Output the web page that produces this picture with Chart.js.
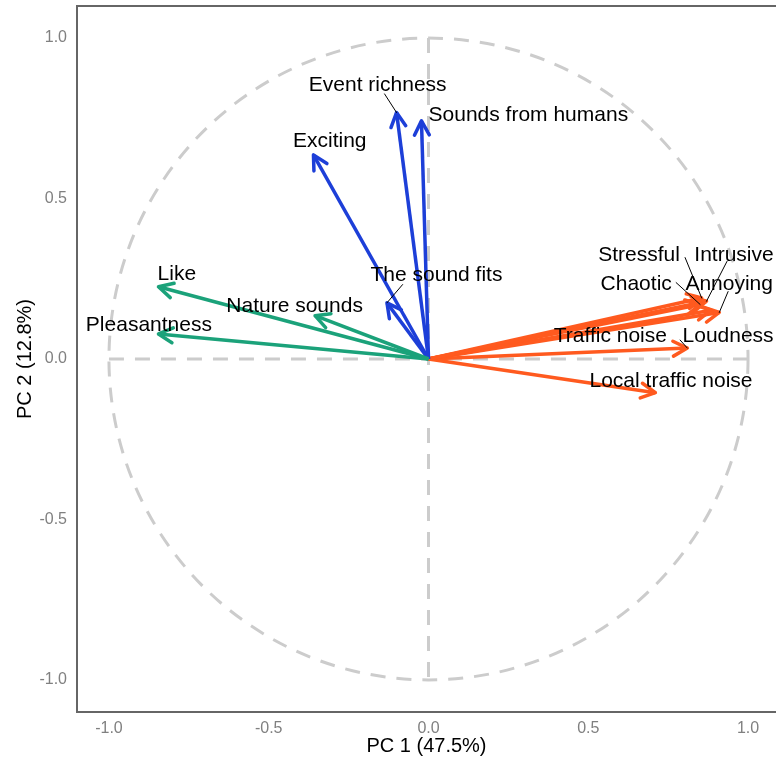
<!DOCTYPE html>
<html>
<head>
<meta charset="utf-8">
<script src="https://cdn.jsdelivr.net/npm/chart.js@4/dist/chart.umd.min.js"></script>
<style>
  body { margin: 0; background: #fff; }
  #wrap { width: 776px; height: 760px; }
</style>
</head>
<body>
<div id="wrap"><canvas id="pcaChart" width="776" height="760"></canvas></div>
<script>
// PCA loadings

const variables = [
    "Pleasantness", "Like", "Nature sounds",
    "Exciting", "Event richness", "Sounds from humans", "The sound fits",
    "Stressful", "Intrusive", "Chaotic", "Annoying", "Loudness",
    "Traffic noise", "Local traffic noise"
];

const pc1 = [-0.845, -0.845, -0.355, -0.36, -0.10, -0.022, -0.13, 0.855, 0.87, 0.85, 0.91, 0.885, 0.81, 0.71];
const pc2 = [0.078, 0.225, 0.135, 0.636, 0.768, 0.742, 0.175, 0.19, 0.18, 0.17, 0.145, 0.152, 0.034, -0.105];
const groups = ["pos", "pos", "pos", "evt", "evt", "evt", "evt", "neg", "neg", "neg", "neg", "neg", "neg", "neg"];

const xTicks = [-1.0, -0.5, 0.0, 0.5, 1.0];
const yTicks = [-1.0, -0.5, 0.0, 0.5, 1.0];

// label placement (layout only)
const labelAt = [
    [-0.875, 0.116], [-0.7875, 0.275], [-0.419, 0.175],
    [-0.309, 0.689], [-0.159, 0.861], [0.3125, 0.77], [0.025, 0.269],
    [0.659, 0.332], [0.956, 0.332], [0.65, 0.241], [0.941, 0.241], [0.9375, 0.081],
    [0.569, 0.081], [0.759, -0.059]
];
// leader line start for repelled labels
const leaderFrom = {
    "Event richness": [-0.1375, 0.826],
    "The sound fits": [-0.081, 0.232],
    "Stressful": [0.803, 0.316],
    "Intrusive": [0.934, 0.304],
    "Chaotic": [0.775, 0.238],
    "Annoying": [0.9375, 0.21],
    "Traffic noise": [0.7875, 0.059]
};

const colours = { pos: "#1BA27A", evt: "#1D3FD8", neg: "#FF5A1F" };
const FONT = "'Liberation Sans', Arial, sans-serif";

const datasets = variables.map((v, i) => ({
    label: v,
    data: [{ x: 0, y: 0 }, { x: pc1[i], y: pc2[i] }],
    borderColor: colours[groups[i]],
    borderWidth: 3.5,
    pointRadius: 0,
    showLine: true,
    fill: false
}));

const decor = {
    id: "decor",
    beforeDatasetsDraw(chart) {
        const ctx = chart.ctx, xs = chart.scales.x, ys = chart.scales.y;
        const cx = xs.getPixelForValue(0), cy = ys.getPixelForValue(0);
        const rx = xs.getPixelForValue(1) - cx, ry = cy - ys.getPixelForValue(1);
        ctx.save();
        ctx.strokeStyle = "#CCCCCC";
        ctx.lineWidth = 3;
        ctx.setLineDash([15, 11]);
        ctx.beginPath();
        ctx.ellipse(cx, cy, rx, ry, 0, 0, Math.PI * 2);
        ctx.stroke();
        ctx.beginPath();
        ctx.moveTo(xs.getPixelForValue(-1), cy);
        ctx.lineTo(xs.getPixelForValue(1), cy);
        ctx.moveTo(cx, ys.getPixelForValue(1));
        ctx.lineTo(cx, ys.getPixelForValue(-1));
        ctx.stroke();
        ctx.restore();
        // top border of the panel
        const a = chart.chartArea;
        ctx.save();
        ctx.strokeStyle = "#666";
        ctx.lineWidth = 2;
        ctx.beginPath();
        ctx.moveTo(a.left, a.top);
        ctx.lineTo(a.right, a.top);
        ctx.stroke();
        ctx.restore();
    },
    afterDatasetsDraw(chart) {
        const ctx = chart.ctx, xs = chart.scales.x, ys = chart.scales.y;
        const x0 = xs.getPixelForValue(0), y0 = ys.getPixelForValue(0);
        ctx.save();
        // arrow heads
        variables.forEach((v, i) => {
            const tx = xs.getPixelForValue(pc1[i]), ty = ys.getPixelForValue(pc2[i]);
            const ang = Math.atan2(ty - y0, tx - x0);
            const len = 16, spread = Math.PI / 6.5;
            ctx.strokeStyle = colours[groups[i]];
            ctx.lineWidth = 3.5;
            ctx.lineCap = "round";
            ctx.lineJoin = "round";
            ctx.beginPath();
            ctx.moveTo(tx - len * Math.cos(ang - spread), ty - len * Math.sin(ang - spread));
            ctx.lineTo(tx, ty);
            ctx.lineTo(tx - len * Math.cos(ang + spread), ty - len * Math.sin(ang + spread));
            ctx.stroke();
        });
        // leader lines
        ctx.strokeStyle = "#000";
        ctx.lineWidth = 1;
        variables.forEach((v, i) => {
            const f = leaderFrom[v];
            if (!f) return;
            ctx.beginPath();
            ctx.moveTo(xs.getPixelForValue(f[0]), ys.getPixelForValue(f[1]));
            ctx.lineTo(xs.getPixelForValue(pc1[i]), ys.getPixelForValue(pc2[i]));
            ctx.stroke();
        });
        // labels
        ctx.fillStyle = "#000";
        ctx.font = "21px " + FONT;
        ctx.textAlign = "center";
        ctx.textBaseline = "middle";
        variables.forEach((v, i) => {
            ctx.fillText(v, xs.getPixelForValue(labelAt[i][0]), ys.getPixelForValue(labelAt[i][1]) + 3);
        });
        ctx.restore();
    }
};

new Chart(document.getElementById("pcaChart"), {
    type: "scatter",
    data: { datasets: datasets },
    options: {
        responsive: false,
        animation: false,
        layout: { padding: { top: 6, right: 0, bottom: 0, left: 0 } },
        plugins: {
            legend: { display: false },
            tooltip: { enabled: false }
        },
        scales: {
            x: {
                type: "linear",
                min: -1.1,
                max: 1.0875,
                afterBuildTicks: (s) => { s.ticks = xTicks.map(v => ({ value: v })); },
                afterFit: (s) => { s.height = 48; s.paddingLeft = 0; s.paddingRight = 0; },
                grid: { display: false, drawTicks: false },
                border: { display: true, color: "#666", width: 2 },
                ticks: {
                    padding: 7,
                    color: "#808080",
                    font: { family: FONT, size: 16 },
                    callback: (v) => Number(v).toFixed(1)
                },
                title: {
                    display: true,
                    text: "PC 1 (47.5%)",
                    color: "#000",
                    font: { family: FONT, size: 20 },
                    padding: { top: 0, bottom: 2 }
                }
            },
            y: {
                type: "linear",
                min: -1.1,
                max: 1.1,
                afterBuildTicks: (s) => { s.ticks = yTicks.map(v => ({ value: v })); },
                afterFit: (s) => { s.width = 77; s.paddingTop = 0; s.paddingBottom = 0; },
                grid: { display: false, drawTicks: false },
                border: { display: true, color: "#666", width: 2 },
                ticks: {
                    padding: 10,
                    color: "#808080",
                    font: { family: FONT, size: 16 },
                    callback: (v) => Number(v).toFixed(1)
                },
                title: {
                    display: true,
                    text: "PC 2 (12.8%)",
                    color: "#000",
                    font: { family: FONT, size: 20 },
                    padding: { top: 13, bottom: 0 }
                }
            }
        }
    },
    plugins: [decor]
});
</script>
</body>
</html>
